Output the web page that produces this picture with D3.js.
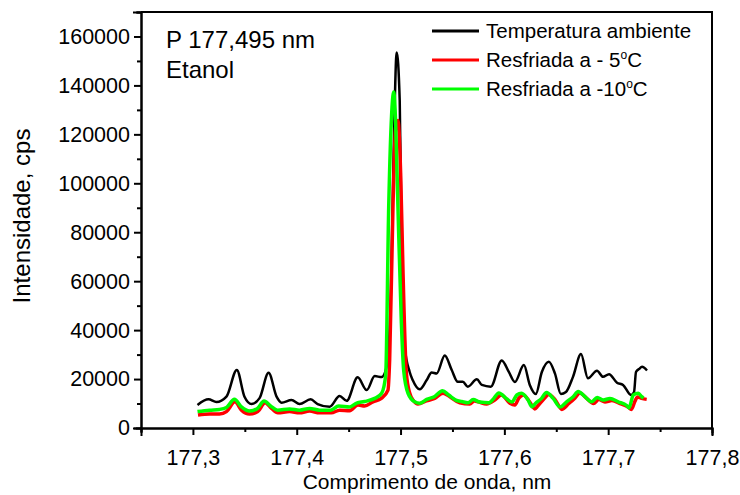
<!DOCTYPE html>
<html>
<head>
<meta charset="utf-8">
<script src="https://cdn.jsdelivr.net/npm/d3@7"></script>
<style>
  body { margin: 0; background: #fff; }
  text { font-family: "Liberation Sans", Arial, Helvetica, sans-serif; fill: #000; }
  .axis path, .axis line { stroke: #000; stroke-width: 2; }
  .axis text { font-size: 21.5px; }
</style>
</head>
<body>
<script>
var w = 740, h = 495;
var margin = {"left": 141, "right": 28, "top": 12, "bottom": 67};

// data
var seriesNames = ["Temperatura ambiente", "Resfriada a - 5", "Resfriada a -10"];
var seriesColors = ["#000000", "#ff0000", "#00ff00"];

var blackWl = [177.3044,177.315,177.3227,177.3323,177.3423,177.3497,177.3565,177.3642,177.3729,177.3806,177.3854,177.395,177.4027,177.4134,177.4201,177.4317,177.4413,177.4481,177.4587,177.4674,177.4751,177.4818,177.4866,177.4905,177.4934,177.4963,177.4992,177.5011,177.504,177.5088,177.5117,177.5185,177.5252,177.53,177.5348,177.5426,177.5493,177.5551,177.56,177.5648,177.5735,177.5783,177.5869,177.5975,177.6043,177.6101,177.6188,177.6245,177.6303,177.6361,177.6429,177.6487,177.6544,177.6593,177.6661,177.6738,177.6805,177.6892,177.695,177.7008,177.7085,177.7143,177.722,177.7249,177.7268,177.7297,177.7326,177.7374];
var blackI = [9400,11700,10600,12800,23700,12800,9800,12200,22600,12800,10300,11400,9800,11700,9800,8700,13100,11100,20700,15500,21200,20800,25000,52000,113500,153500,133900,72700,33200,22900,19600,15800,19600,22700,22300,29600,23700,18900,18900,16900,19900,17600,16900,27600,22900,18800,25700,17600,13900,22900,27100,22300,13900,14700,20900,30200,20300,23400,20900,22000,18500,17600,13500,14700,22900,24100,25000,23500];

var redWl = [177.3049,177.316,177.3256,177.3323,177.3405,177.3468,177.3545,177.3625,177.3695,177.3757,177.3818,177.3931,177.4027,177.4124,177.422,177.4333,177.4413,177.451,177.459,177.4654,177.4734,177.4815,177.4879,177.4895,177.4927,177.4953,177.4975,177.5001,177.5024,177.5056,177.5088,177.5127,177.5168,177.5249,177.5329,177.5409,177.5474,177.557,177.5667,177.571,177.5747,177.5828,177.5908,177.5972,177.6053,177.6101,177.6139,177.6183,177.6245,177.6294,177.6322,177.638,177.6429,177.6491,177.6554,177.6621,177.6679,177.6728,177.6795,177.6858,177.6911,177.6969,177.7036,177.7114,177.7191,177.7224,177.7258,177.7282,177.7322,177.7371];
var redI = [5300,5700,5700,6700,10700,7300,5700,6700,10300,8000,6200,6700,6200,6900,6200,6200,7300,7100,9400,9000,10700,12100,15500,27800,90300,123000,125700,104100,63300,22400,14300,11000,9800,11100,12100,14200,12800,10300,9800,11000,10700,9800,11400,13500,10100,9400,12200,13500,10600,7800,9000,11800,13700,11400,7600,10000,12200,14300,12000,10000,11600,10600,11200,10000,8600,7600,11000,12700,12100,11700];

var greenWl = [177.3044,177.316,177.3256,177.3323,177.34,177.3468,177.3545,177.3622,177.3685,177.3748,177.3815,177.3931,177.4027,177.4124,177.422,177.4326,177.4404,177.451,177.4577,177.4654,177.4751,177.4818,177.4857,177.4886,177.4918,177.4934,177.4953,177.4975,177.5008,177.503,177.5072,177.5136,177.5185,177.5252,177.5329,177.5404,177.5464,177.5532,177.559,177.565,177.5699,177.5763,177.585,177.5898,177.5946,177.6021,177.6072,177.612,177.6165,177.6229,177.6265,177.6303,177.6358,177.6406,177.647,177.6535,177.6599,177.6663,177.6711,177.6776,177.684,177.6894,177.6952,177.7017,177.7097,177.7178,177.72,177.7242,177.729,177.7323,177.734];
var greenI = [6700,7300,7600,8400,11700,8600,6900,8000,11000,9000,7300,7800,7300,8000,7300,7300,9000,8600,10200,10800,12100,14200,21600,90300,131100,137300,124500,90300,42900,23700,14200,10700,10100,11700,12900,15200,13500,11400,10800,10300,11600,10600,10300,12100,14300,12000,10600,13500,14200,11400,8700,10200,12100,14500,12100,8600,10700,12800,14900,12800,10700,12500,11400,12100,10700,9200,8200,13500,14200,12800,12200];

var yMajorTicks = [0, 20000, 40000, 60000, 80000, 100000, 120000, 140000, 160000];
var yMinorTicks = [10000, 30000, 50000, 70000, 90000, 110000, 130000, 150000, 170000];
var xMajorTicks = [177.3, 177.4, 177.5, 177.6, 177.7, 177.8];
var xMinorTicks = [177.25, 177.35, 177.45, 177.55, 177.65, 177.75];

var series = [
    {"name": seriesNames[0], "color": seriesColors[0], "width": 2.5, "wl": blackWl, "val": blackI},
    {"name": seriesNames[1], "color": seriesColors[1], "width": 3.5, "wl": redWl, "val": redI},
    {"name": seriesNames[2], "color": seriesColors[2], "width": 3.5, "wl": greenWl, "val": greenI}
];

var svg = d3.select("body")
            .append("svg")
            .attr("width", w)
            .attr("height", h);

var xScale = d3.scaleLinear()
                .domain([177.25, 177.8])
                .range([margin.left, w - margin.right]);

var yScale = d3.scaleLinear()
                .domain([0, 170000])
                .range([h - margin.bottom, margin.top]);

var line = d3.line()
            .x(function(d){ return xScale(d[0]); })
            .y(function(d){ return yScale(d[1]); })
            .curve(d3.curveMonotoneX);

svg.append("g")
    .attr("id", "graph")
    .selectAll("path")
    .data(series)
    .enter()
    .append("path")
    .attr("fill", "none")
    .attr("stroke", function(d){ return d.color; })
    .attr("stroke-width", function(d){ return d.width; })
    .attr("stroke-linejoin", "round")
    .attr("d", function(d){
        return line(d.wl.map(function(x, i){ return [x, d.val[i]]; }));
    });

// frame (top and right)
svg.append("path")
    .attr("fill", "none")
    .attr("stroke", "#000")
    .attr("stroke-width", 2)
    .attr("d", "M" + margin.left + "," + margin.top + "H" + (w - margin.right) + "V" + (h - margin.bottom));

var yAxis = d3.axisLeft(yScale)
                .tickValues(yMajorTicks)
                .tickSize(7)
                .tickPadding(4)
                .tickFormat(function(d){ return d; });
var yAxisMinor = d3.axisLeft(yScale)
                .tickValues(yMinorTicks)
                .tickSize(4)
                .tickFormat("");
var xAxis = d3.axisBottom(xScale)
                .tickValues(xMajorTicks)
                .tickSize(7)
                .tickPadding(15)
                .tickFormat(function(d){ return d.toFixed(1).replace(".", ","); });
var xAxisMinor = d3.axisBottom(xScale)
                .tickValues(xMinorTicks)
                .tickSize(4)
                .tickFormat("");

svg.append("g").classed("axis", true)
    .attr("transform", "translate(" + margin.left + ",0)")
    .call(yAxisMinor);
svg.append("g").classed("axis", true)
    .attr("transform", "translate(" + margin.left + ",0)")
    .call(yAxis);
svg.append("g").classed("axis", true)
    .attr("transform", "translate(0," + (h - margin.bottom) + ")")
    .call(xAxisMinor);
svg.append("g").classed("axis", true)
    .attr("transform", "translate(0," + (h - margin.bottom) + ")")
    .call(xAxis);
svg.selectAll(".axis .domain").attr("stroke-linecap", "square");

// axis titles
svg.append("text")
    .attr("x", 427)
    .attr("y", 489)
    .attr("text-anchor", "middle")
    .style("font-size", "21px")
    .text("Comprimento de onda, nm");

svg.append("text")
    .attr("transform", "translate(30,216) rotate(-90)")
    .attr("text-anchor", "middle")
    .style("font-size", "24px")
    .text("Intensidade, cps");

// annotation
svg.append("text").attr("x", 166).attr("y", 48).style("font-size", "24px").text("P 177,495 nm");
svg.append("text").attr("x", 166).attr("y", 78).style("font-size", "24px").text("Etanol");

// legend
var legend = svg.selectAll("g.legend")
                .data(series)
                .enter()
                .append("g")
                .classed("legend", true)
                .attr("transform", function(d, i){ return "translate(432," + (31 + i * 29) + ")"; });

legend.append("line")
        .attr("x1", 0).attr("x2", 47)
        .attr("stroke", function(d){ return d.color; })
        .attr("stroke-width", 3);

var lt = legend.append("text")
        .attr("x", 54)
        .attr("y", 7)
        .style("font-size", "20.5px")
        .text(function(d){ return d.name; });
lt.filter(function(d, i){ return i > 0; })
    .append("tspan").attr("dy", -8).style("font-size", "12px").text("o");
lt.filter(function(d, i){ return i > 0; })
    .append("tspan").attr("dy", 8).text("C");
</script>
</body>
</html>
